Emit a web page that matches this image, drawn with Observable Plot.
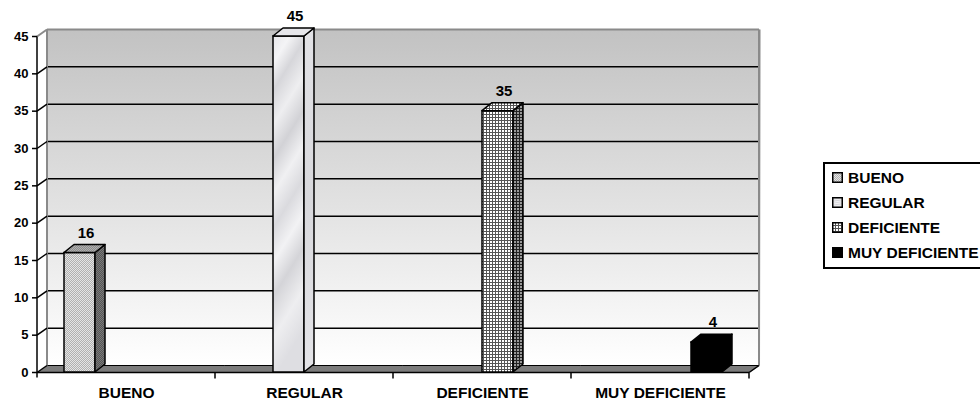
<!DOCTYPE html>
<html>
<head>
<meta charset="utf-8">
<script src="https://cdn.jsdelivr.net/npm/d3@7"></script>
<script src="https://cdn.jsdelivr.net/npm/@observablehq/plot@0.6"></script>
<style>
  html, body { margin: 0; padding: 0; background: #fff; overflow: hidden; width: 980px; height: 400px; }
  #wrap { position: relative; width: 980px; height: 400px; font-family: "Liberation Sans", Arial, sans-serif; }
  #chart { position: absolute; left: 0; top: 0; }
  #legend { position: absolute; left: 823px; top: 162px; width: 200px; height: 102px; border: 2px solid #000;
            box-sizing: content-box; padding-top: 1px; }
  .item { height: 25px; display: flex; align-items: center; padding-left: 7px; font-weight: bold; font-size: 15.5px; color: #000; white-space: nowrap; }
  .item svg { margin-right: 5px; flex: none; }
</style>
</head>
<body>
<svg width="0" height="0" style="position:absolute">
  <defs>
    <linearGradient id="wallGrad" x1="0" y1="0" x2="0" y2="1">
      <stop offset="0" stop-color="#c2c2c2"/>
      <stop offset="1" stop-color="#ffffff"/>
    </linearGradient>
    <pattern id="pB" width="2" height="2" patternUnits="userSpaceOnUse">
      <rect width="2" height="2" fill="#e4e4e4"/>
      <rect x="0" y="0" width="1" height="1" fill="#b0b0b0"/>
      <rect x="1" y="1" width="1" height="1" fill="#b0b0b0"/>
    </pattern>
    <pattern id="pBs" width="2" height="2" patternUnits="userSpaceOnUse">
      <rect width="2" height="2" fill="#7a7a7a"/>
      <rect x="0" y="0" width="1" height="1" fill="#555"/>
      <rect x="1" y="1" width="1" height="1" fill="#555"/>
    </pattern>
    <pattern id="pBt" width="2" height="2" patternUnits="userSpaceOnUse">
      <rect width="2" height="2" fill="#b0b0b0"/>
      <rect x="0" y="0" width="1" height="1" fill="#8c8c8c"/>
      <rect x="1" y="1" width="1" height="1" fill="#8c8c8c"/>
    </pattern>
    <linearGradient id="pR" x1="0" y1="0" x2="0.15" y2="1">
      <stop offset="0" stop-color="#e6e6ea"/>
      <stop offset="0.08" stop-color="#f4f4f6"/>
      <stop offset="0.16" stop-color="#d6d6da"/>
      <stop offset="0.26" stop-color="#eeeef0"/>
      <stop offset="0.36" stop-color="#d2d2d6"/>
      <stop offset="0.46" stop-color="#f0f0f2"/>
      <stop offset="0.56" stop-color="#dadade"/>
      <stop offset="0.66" stop-color="#f2f2f4"/>
      <stop offset="0.76" stop-color="#d4d4d8"/>
      <stop offset="0.88" stop-color="#eeeef0"/>
      <stop offset="1" stop-color="#dedee2"/>
    </linearGradient>
    <linearGradient id="pRs" x1="0" y1="0" x2="0" y2="1">
      <stop offset="0" stop-color="#e2e2e6"/>
      <stop offset="0.5" stop-color="#d8d8dc"/>
      <stop offset="1" stop-color="#e4e4e8"/>
    </linearGradient>
    <pattern id="pD" width="3" height="3" patternUnits="userSpaceOnUse">
      <rect width="3" height="3" fill="#ffffff"/>
      <rect x="0" y="0" width="3" height="1" fill="#555"/>
      <rect x="0" y="0" width="1" height="3" fill="#555"/>
    </pattern>
    <pattern id="pDs" width="3" height="3" patternUnits="userSpaceOnUse">
      <rect width="3" height="3" fill="#999"/>
      <rect x="0" y="0" width="3" height="1" fill="#222"/>
      <rect x="0" y="0" width="1" height="3" fill="#222"/>
    </pattern>
  </defs>
</svg>
<div id="wrap">
  <div id="chart"></div>
  <div id="legend"></div>
</div>
<script>
// ---- data ----
const categories = ["BUENO", "REGULAR", "DEFICIENTE", "MUY DEFICIENTE"];
const series = ["BUENO", "REGULAR", "DEFICIENTE", "MUY DEFICIENTE"];
const values = [16, 45, 35, 4];
const yTicks = [0, 5, 10, 15, 20, 25, 30, 35, 40, 45];
const gridValues = [5, 10, 15, 20, 25, 30, 35, 40];

// ---- styles (fills per series) ----
const frontFills = ["url(#pB)", "url(#pR)", "url(#pD)", "#000000"];
const sideFills = {"url(#pB)": "url(#pBs)", "url(#pR)": "url(#pRs)", "url(#pD)": "url(#pDs)", "#000000": "#000000"};
const topFills = {"url(#pB)": "url(#pBt)", "url(#pR)": "#e6e6ea", "url(#pD)": "url(#pD)", "#000000": "#000000"};

const data = categories.map((c, i) => ({category: c, series: series[i], value: values[i]}));

const DX = 10, DY = -7;     // wall depth offset
const BDX = 10, BDY = -8;   // bar depth offset
const NS = "http://www.w3.org/2000/svg";

function el(tag, attrs) {
  const e = document.createElementNS(NS, tag);
  for (const k in attrs) e.setAttribute(k, attrs[k]);
  return e;
}

// 3D faces for bars, derived from the rects that Plot drew
function bar3d(index, scales, vals, dims, ctx, next) {
  const g = next(index, scales, vals, dims, ctx);
  for (const r of Array.from(g.querySelectorAll("rect"))) {
    const x = +r.getAttribute("x"), y = +r.getAttribute("y");
    const w = +r.getAttribute("width"), h = +r.getAttribute("height");
    const f = r.getAttribute("fill");
    const p = r.parentNode;
    p.appendChild(el("polygon", {
      points: `${x + w},${y} ${x + w + BDX},${y + BDY} ${x + w + BDX},${y + h + BDY} ${x + w},${y + h}`,
      fill: sideFills[f] || f, "stroke-linejoin": "round"
    }));
    p.appendChild(el("polygon", {
      points: `${x},${y} ${x + BDX},${y + BDY} ${x + w + BDX},${y + BDY} ${x + w},${y}`,
      fill: topFills[f] || f, "stroke-linejoin": "round"
    }));
  }
  return g;
}

// floor tile per facet, from the zero rule
function floor(index, scales, vals, dims, ctx, next) {
  const g = next(index, scales, vals, dims, ctx);
  const line = g.querySelector("line");
  const x1 = +line.getAttribute("x1"), x2 = +line.getAttribute("x2"), y = +line.getAttribute("y1");
  line.remove();
  g.appendChild(el("polygon", {points: `${x1},${y} ${x2 + 1},${y} ${x2 + DX + 1},${y + DY} ${x1 + DX},${y + DY}`, fill: "#7c7c7c", stroke: "none"}));
  g.appendChild(el("line", {x1: x1 + DX, x2: x2 + DX, y1: y + DY, y2: y + DY, stroke: "#000", "stroke-width": 1}));
  g.appendChild(el("line", {x1: x1, x2: x2, y1: y, y2: y, stroke: "#000", "stroke-width": 1.5}));
  g.appendChild(el("line", {x1: x2, x2: x2, y1: y, y2: y + 6, stroke: "#000", "stroke-width": 1.5}));
  return g;
}

// left side wall: diagonals at ticks, axis line, wall left edge
function leftDecor(index, scales, vals, dims, ctx, next) {
  const g = next(index, scales, vals, dims, ctx);
  const lines = Array.from(g.querySelectorAll("line"));
  const x1 = +lines[0].getAttribute("x1");
  const y0 = scales.y(0), yTop = scales.y(45);
  lines.forEach(l => l.remove());
  g.appendChild(el("line", {x1: x1 + DX, x2: x1 + DX, y1: yTop + DY, y2: y0 + DY, stroke: "#8a8a8a", "stroke-width": 2}));
  for (const i of index) {
    const y = vals.y[i];
    const v = yTicks[i];
    g.appendChild(el("line", {x1: x1, x2: x1 + DX, y1: y, y2: y + DY,
      stroke: v === 45 ? "#8a8a8a" : "#000", "stroke-width": v === 45 ? 2 : 1.5}));
  }
  g.appendChild(el("line", {x1: x1, x2: x1, y1: yTop, y2: y0 + 5, stroke: "#000", "stroke-width": 1.5}));
  return g;
}

// right side: wall right edge and floor corner
function rightDecor(index, scales, vals, dims, ctx, next) {
  const g = next(index, scales, vals, dims, ctx);
  const line = g.querySelector("line");
  const x2 = +line.getAttribute("x2");
  const y0 = scales.y(0), yTop = scales.y(45);
  line.remove();
  g.appendChild(el("line", {x1: x2 + DX, x2: x2 + DX, y1: yTop + DY, y2: y0 + DY, stroke: "#8a8a8a", "stroke-width": 2}));
  g.appendChild(el("line", {x1: x2, x2: x2 + DX, y1: y0, y2: y0 + DY, stroke: "#000", "stroke-width": 1.5}));
  return g;
}

const chart = Plot.plot({
  width: 790,
  height: 400,
  marginLeft: 36,
  marginRight: 40,
  marginTop: 36,
  marginBottom: 28,
  style: {fontFamily: "'Liberation Sans', Arial, sans-serif", background: "transparent", overflow: "visible"},
  fx: {domain: categories, padding: 0, axis: null},
  x: {domain: series, paddingInner: 0, paddingOuter: 0.8, axis: null},
  y: {domain: [0, 45], axis: null},
  color: {domain: series, range: frontFills},
  marks: [
    Plot.frame({fill: "url(#wallGrad)", stroke: "none", dx: DX, dy: DY, insetRight: -1.5}),
    Plot.ruleY(gridValues, {stroke: "#000", strokeWidth: 1.5, dx: DX, dy: DY}),
    Plot.ruleY([45], {stroke: "#8a8a8a", strokeWidth: 2, dx: DX, dy: DY}),
    Plot.ruleY([0], {render: floor}),
    Plot.ruleY(yTicks, {facetAnchor: "left", render: leftDecor}),
    Plot.ruleY([0], {facetAnchor: "right", render: rightDecor}),
    Plot.axisY({ticks: yTicks, tickSize: 5, tickPadding: 4, fontSize: 13, fontWeight: "bold", label: null, strokeWidth: 1.5}),
    Plot.barY(data, {fx: "category", x: "series", y: "value", fill: "series", stroke: "#000", strokeWidth: 1.5, render: bar3d}),
    Plot.text(data, {fx: "category", x: "series", y: "value", text: d => String(d.value), dy: -20, dx: 6, fontSize: 15, fontWeight: "bold"}),
    Plot.axisFx({anchor: "bottom", tickSize: 0, tickPadding: 14, label: null, fontSize: 15.5, fontWeight: "bold"})
  ]
});
document.getElementById("chart").appendChild(chart);

// legend
const legend = document.getElementById("legend");
series.forEach((s, i) => {
  const item = document.createElement("div");
  item.className = "item";
  const sw = document.createElementNS(NS, "svg");
  sw.setAttribute("width", 11); sw.setAttribute("height", 11);
  sw.appendChild(el("rect", {x: 0.75, y: 0.75, width: 9.5, height: 9.5, fill: frontFills[i], stroke: "#000", "stroke-width": 1.5}));
  item.appendChild(sw);
  item.appendChild(document.createTextNode(s));
  legend.appendChild(item);
});
</script>
</body>
</html>
